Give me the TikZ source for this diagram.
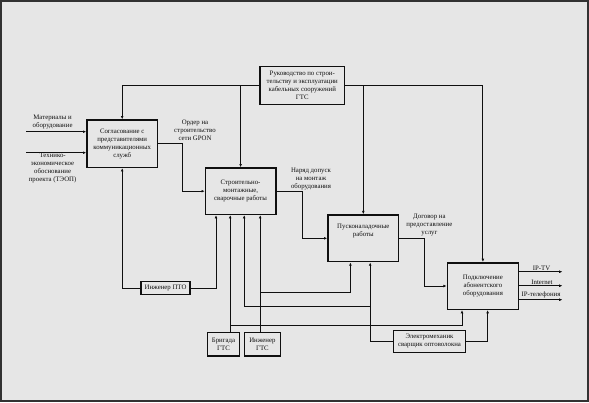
\documentclass[tikz,border=0pt]{standalone}
\usepackage{fontspec}
\setmainfont{Liberation Serif}
\usetikzlibrary{arrows.meta,calc}
\definecolor{paperc}{RGB}{230,230,230}
\definecolor{inkc}{RGB}{15,15,15}
\definecolor{framec}{RGB}{50,50,50}
\begin{document}
\begin{tikzpicture}[x=1pt,y=-1pt,
  txt/.style={font=\fontsize{6.8}{8}\selectfont, align=center, text=inkc, inner sep=0pt},
  mainbox/.style={txt, draw=inkc, line width=1.6pt, fill=paperc},
  topbox/.style={txt, draw=inkc, line width=1.2pt, fill=paperc},
  mechbox/.style={txt, draw=inkc, line width=1.1pt, fill=paperc},
  conn/.style={draw=inkc, line width=0.9pt},
  arr/.style={conn, -{Latex[length=3.2pt,width=2.8pt]}}]
\draw[line width=1.6pt, draw=framec, fill=paperc] (0.8,0.8) rectangle (588.2,401.2);
\useasboundingbox (0,0) rectangle (589,402);

% main boxes
\node[topbox, minimum width=84.5pt, minimum height=37.6pt] (top) at (302.3,85.5)
  {Руководство по строи-\\тельству и эксплуатации\\кабельных сооружений\\ГТС};
\node[mainbox, minimum width=70.4pt, minimum height=47.3pt] (b1) at (122.2,143.7)
  {Согласование с\\представителями\\коммуникационных\\служб};
\node[mainbox, minimum width=70.2pt, minimum height=46.3pt] (b2) at (240.6,191.2)
  {Строительно-\\монтажные,\\сварочные работы};
\node[mainbox, minimum width=70.6pt, minimum height=46.7pt] (b3) at (363.3,238.3)
  {Пусконаладочные\\работы\\[8pt]};
\node[mainbox, minimum width=71pt, minimum height=46.6pt] (b4) at (482.9,286)
  {Подключение\\абонентского\\оборудования};

% mechanism boxes
\node[mechbox, minimum width=49pt, minimum height=13pt] (pto) at (165.5,288.2) {Инженер ПТО};
\node[mechbox, minimum width=31.6pt, minimum height=23.3pt] (brig) at (223.5,344.3) {Бригада\\ГТС};
\node[mechbox, minimum width=35.6pt, minimum height=23.3pt] (ing) at (262.4,344.3) {Инженер\\ГТС};
\node[mechbox, minimum width=71.7pt, minimum height=22.3pt] (em) at (429.5,341.2) {Электромеханик\\сварщик оптоволокна};

% labels
\node[txt] (lmat) at (52.6,122.5) {Материалы и\\оборудование};
\node[txt] (lteo) at (52.6,168) {Технико-\\экономическое\\обоснование\\проекта (ТЭОП)};
\node[txt] (lord) at (195,130.7) {Ордер на\\строительство\\сети GPON};
\node[txt] (lnar) at (311,179.3) {Наряд допуск\\на монтаж\\оборудования};
\node[txt] (ldog) at (429.4,225.5) {Договор на\\предоставление\\услуг};
\node[txt, anchor=south] (liptv) at (541.5,270.5) {IP-TV};
\node[txt, anchor=south] (lint) at (542,284.5) {Internet};
\node[txt, anchor=south] (ltel) at (541,298.5) {IP-телефония};

% coordinates
\coordinate (i1) at (26.3,131.7);
\coordinate (i2) at (26.3,152.7);
\coordinate (o1) at (562.4,271.7);
\coordinate (o2) at (562.4,285.7);
\coordinate (o3) at (562.4,299.7);
\coordinate (bus) at (0,85);
\coordinate (b2m1) at ([xshift=11.3pt]b2.south west);
\coordinate (b2m2) at ([xshift=25.5pt]b2.south west);
\coordinate (b2m3) at ([xshift=39.5pt]b2.south west);
\coordinate (b2m4) at ([xshift=55.5pt]b2.south west);
\coordinate (b3m1) at ([xshift=23.2pt]b3.south west);
\coordinate (b3m2) at ([xshift=43pt]b3.south west);
\coordinate (b4m1) at ([xshift=15.4pt]b4.south west);
\coordinate (b4m2) at ([xshift=41pt]b4.south west);

% control bus
\draw[arr] (top.west |- bus) -| (b1.north);
\draw[arr] (b2.north |- bus) -- (b2.north);
\draw[arr] (top.east |- bus) -| (b4.north);
\draw[arr] (b3.north |- bus) -- (b3.north);

% inputs
\draw[arr] (i1) -- (b1.west |- i1);
\draw[arr] (i2) -- (b1.west |- i2);

% flow between boxes
\draw[arr] (b1.east) -- ++(24.4,0) |- (b2.west);
\draw[arr] (b2.east) -- ++(26.3,0) |- (b3.west);
\draw[arr] (b3.east) -- ++(24.8,0) |- (b4.west);

% outputs
\draw[arr] (b4.east |- o1) -- (o1);
\draw[arr] (b4.east |- o2) -- (o2);
\draw[arr] (b4.east |- o3) -- (o3);

% mechanisms
\draw[arr] (pto.west) -| (b1.south);
\draw[arr] (pto.east) -| (b2m1);
\draw[arr] (b2m2 |- brig.north) -- (b2m2);
\draw[arr] (b2m2 |- 0,325.7) -| (b4m1);
\draw[arr] (b2m4 |- ing.north) -- (b2m4);
\draw[arr] (b2m4 |- 0,292.3) -| (b3m1);
\draw[arr] (em.west) -| (b3m2);
\draw[arr] (b3m2 |- 0,306.7) -| (b2m3);
\draw[arr] (em.east) -| (b4m2);
\end{tikzpicture}
\end{document}
